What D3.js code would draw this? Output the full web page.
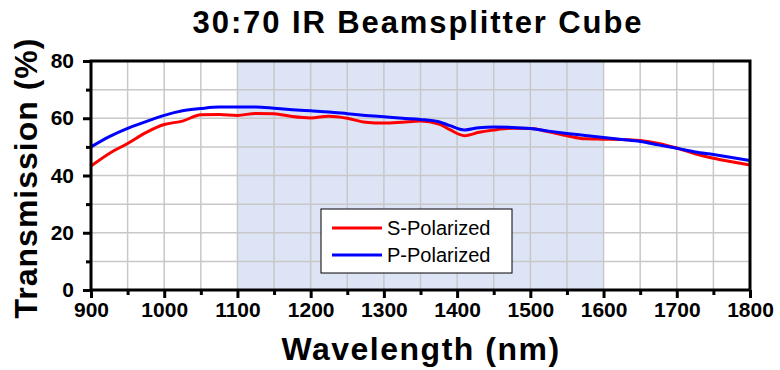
<!DOCTYPE html>
<html><head><meta charset="utf-8">
<script src="https://cdn.jsdelivr.net/npm/d3@7/dist/d3.min.js"></script>
<style>
body{margin:0;background:#fff}
svg text{font-family:"Liberation Sans",Arial,Helvetica,sans-serif}
</style>
</head><body>
<svg id="chart" width="780" height="370"></svg>
<script>
const wavelength=[900,925,950,975,1000,1025,1050,1075,1100,1125,1150,1175,1200,1225,1250,1275,1300,1325,1350,1375,1390,1410,1430,1450,1475,1500,1525,1550,1575,1600,1625,1650,1675,1700,1725,1750,1775,1800];
const sPol=[43.3,47.7,51.2,55.0,57.8,59.0,61.2,61.3,61.0,61.7,61.6,60.6,60.1,60.7,60.0,58.6,58.3,58.6,59.0,58.0,56.0,53.9,55.1,55.9,56.5,56.4,55.3,53.9,52.8,52.7,52.6,52.2,51.2,49.6,47.6,46.0,44.8,43.7];
const pPol=[50.0,53.6,56.5,58.8,61.0,62.6,63.4,63.9,63.9,63.9,63.5,63.0,62.6,62.2,61.6,61.0,60.5,60.0,59.6,58.8,57.4,55.9,56.7,56.9,56.8,56.4,55.5,54.7,54.0,53.3,52.6,51.9,50.7,49.5,48.2,47.3,46.3,45.2];
const band=[1100,1600];
const xTicks=[900,1000,1100,1200,1300,1400,1500,1600,1700,1800];
const xMinor=[950,1050,1150,1250,1350,1450,1550,1650,1750];
const yTicks=[0,20,40,60,80];
const yMinor=[10,30,50,70];
const series=[
  {name:"S-Polarized",color:"#ff0000",values:sPol},
  {name:"P-Polarized",color:"#0000ff",values:pPol}
];

const svg=d3.select("#chart");
const m={l:91,r:30,t:61,b:80},W=780,H=370;
const x=d3.scaleLinear().domain([900,1800]).range([m.l,W-m.r]);
const y=d3.scaleLinear().domain([0,80]).range([H-m.b,m.t]);

// title
svg.append("text").attr("x",418).attr("y",33).attr("text-anchor","middle")
  .style("font-size","31px").style("font-weight","bold").style("letter-spacing","1.9px")
  .text("30:70 IR Beamsplitter Cube");

// shaded band
svg.append("rect").attr("x",x(band[0])).attr("y",y(80))
  .attr("width",x(band[1])-x(band[0])).attr("height",y(0)-y(80))
  .attr("fill","#dce4f5");

// grid
const gx=xTicks.concat(xMinor), gy=yTicks.concat(yMinor);
svg.append("g").selectAll("line").data(gx).join("line")
  .attr("x1",d=>x(d)).attr("x2",d=>x(d)).attr("y1",y(0)).attr("y2",y(80))
  .attr("stroke","#c8c8c8").attr("stroke-width",1.5);
svg.append("g").selectAll("line").data(gy).join("line")
  .attr("x1",x(900)).attr("x2",x(1800)).attr("y1",d=>y(d)).attr("y2",d=>y(d))
  .attr("stroke","#c8c8c8").attr("stroke-width",1.5);

// curves
const line=d3.line().x((d,i)=>x(wavelength[i])).y(d=>y(d)).curve(d3.curveMonotoneX);
series.forEach(s=>{
  svg.append("path").datum(s.values).attr("d",line)
    .attr("fill","none").attr("stroke",s.color).attr("stroke-width",3);
});

// axes
function styleAxis(g){
  g.select(".domain").remove();
  g.selectAll("line").attr("stroke","#000").attr("stroke-width",3);
  g.selectAll("text").style("font-size","21px").style("font-weight","bold").attr("fill","#000");
}
svg.append("g").attr("transform",`translate(0,${y(0)})`)
  .call(d3.axisBottom(x).tickValues(xTicks).tickFormat(d3.format("d")).tickSize(8).tickPadding(4)).call(styleAxis);
svg.append("g").attr("transform",`translate(0,${y(0)})`)
  .call(d3.axisBottom(x).tickValues(xMinor).tickFormat("").tickSize(5)).call(styleAxis);
svg.append("g").attr("transform",`translate(${x(900)},0)`)
  .call(d3.axisLeft(y).tickValues(yTicks).tickFormat(d3.format("d")).tickSize(8).tickPadding(9)).call(styleAxis);
svg.append("g").attr("transform",`translate(${x(900)},0)`)
  .call(d3.axisLeft(y).tickValues(yMinor).tickFormat("").tickSize(5)).call(styleAxis);

// frame
svg.append("rect").attr("x",x(900)).attr("y",y(80))
  .attr("width",x(1800)-x(900)).attr("height",y(0)-y(80))
  .attr("fill","none").attr("stroke","#000").attr("stroke-width",3);

// axis titles
svg.append("text").attr("x",421).attr("y",360).attr("text-anchor","middle")
  .style("font-size","32px").style("font-weight","bold").style("letter-spacing","1.5px")
  .text("Wavelength (nm)");
svg.append("text").attr("transform","translate(37,178) rotate(-90)").attr("text-anchor","middle")
  .style("font-size","32px").style("font-weight","bold").style("letter-spacing","1px")
  .text("Transmission (%)");

// legend
const lg=svg.append("g").attr("transform","translate(321,209)");
lg.append("rect").attr("width",191).attr("height",64).attr("fill","#fff").attr("stroke","#000").attr("stroke-width",1);
series.forEach((s,i)=>{
  const yy=19+i*27;
  lg.append("line").attr("x1",11).attr("x2",61).attr("y1",yy).attr("y2",yy)
    .attr("stroke",s.color).attr("stroke-width",3);
  lg.append("text").attr("x",66).attr("y",yy+7).style("font-size","20px").text(s.name);
});
</script>
</body></html>
